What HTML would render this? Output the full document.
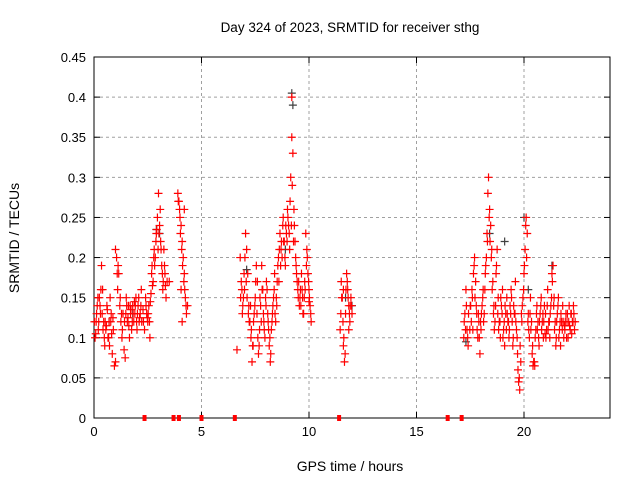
<!DOCTYPE html>
<html><head><meta charset="utf-8"><style>
body{margin:0;background:#fff}
svg{display:block;font-family:"Liberation Sans",sans-serif}
</style></head><body>
<svg id="c" width="640" height="480">
<rect width="640" height="480" fill="#fff"/>
<text x="350" y="32" text-anchor="middle" font-size="13.5">Day 324 of 2023, SRMTID for receiver sthg</text>
<text x="350" y="471" text-anchor="middle" font-size="14">GPS time / hours</text>
<text transform="translate(19,238) rotate(-90)" text-anchor="middle" font-size="14">SRMTID / TECUs</text>
<g id="grid"></g>
<g id="axes"></g>
<g id="blk"></g>
<g id="red"></g>
</svg>
<script>
const xTicks=[0,5,10,15,20];
const yTicks=[0,0.05,0.1,0.15,0.2,0.25,0.3,0.35,0.4,0.45];
const yTickLabels=["0","0.05","0.1","0.15","0.2","0.25","0.3","0.35","0.4","0.45"];
const redHours=[0.05,0.1,0.15,0.2,0.25,0.3,0.35,0.4,0.45,0.5,0.55,0.6,0.65,0.7,0.75,0.8,0.85,0.9,0.95,1.0,1.0,1.05,1.1,1.15,1.2,1.25,1.3,1.35,1.4,1.45,1.5,1.55,1.6,1.65,1.7,1.75,1.8,1.85,1.9,1.95,2.0,2.05,2.1,2.15,2.2,2.3,2.35,2.4,2.45,2.5,2.55,2.6,2.65,2.7,2.75,2.8,2.85,2.9,2.95,3.0,3.05,3.1,3.15,3.2,3.25,3.3,3.35,3.4,3.5,3.9,3.95,4.0,4.05,4.1,4.15,4.2,4.25,4.3,4.35,4.05,4.1,4.2,
6.65,6.8,6.85,6.9,6.95,7.0,7.05,7.1,7.15,7.2,7.25,7.3,7.35,7.4,7.45,7.5,7.55,7.6,7.65,7.7,7.75,7.8,7.85,7.9,7.95,8.0,8.05,8.1,8.15,8.2,8.25,8.3,8.35,8.4,8.45,8.5,8.55,8.6,8.65,8.7,8.75,8.8,8.85,8.9,8.95,9.0,9.05,9.1,9.15,9.2,9.25,9.2,9.3,9.35,9.4,9.45,9.5,9.55,9.6,9.65,9.7,9.75,9.8,9.85,9.9,9.95,10.0,10.05,10.1,10.0,
11.45,11.5,11.55,11.6,11.65,11.7,11.75,11.8,11.85,11.9,11.95,12.0,11.6,11.85,
17.2,17.25,17.3,17.35,17.4,17.5,17.55,17.6,17.65,17.7,17.75,17.8,17.85,17.9,17.95,18.0,18.05,18.1,18.15,18.2,18.25,18.3,18.35,18.4,18.45,18.5,18.55,18.6,18.65,18.7,18.75,18.8,18.85,18.9,18.95,19.0,19.05,19.1,19.15,19.2,19.25,19.3,19.35,19.4,19.45,19.5,19.55,19.6,19.65,19.7,19.75,19.8,19.85,19.9,19.95,20.0,20.05,20.1,20.15,20.2,20.25,20.3,20.35,20.4,20.45,20.5,20.55,20.6,20.65,20.7,20.75,20.8,20.85,20.9,20.95,21.0,21.05,21.1,21.15,21.2,21.25,21.3,21.35,21.4,21.45,21.5,21.55,21.6,21.65,21.7,21.75,21.8,21.85,21.9,21.95,22.0,22.05,22.1,22.15,22.2,22.25,22.3,22.35];
const redValues=[.10,.12,.14,.11,.15,.13,.19,.16,.12,.09,.11,.14,.10,.12,.15,.13,.08,.11,.065,.07,.21,.20,.16,.18,.14,.12,.10,.13,.085,.075,.15,.12,.14,.10,.13,.11,.14,.12,.13,.15,.11,.14,.12,.13,.16,.12,.11,.15,.13,.12,.14,.10,.155,.19,.17,.21,.20,.23,.25,.28,.24,.22,.19,.16,.21,.18,.15,.17,.17,.28,.27,.25,.24,.22,.20,.18,.15,.13,.14,.16,.12,.26,
.085,.20,.17,.13,.15,.16,.23,.21,.18,.14,.12,.10,.07,.09,.13,.15,.19,.17,.08,.11,.14,.19,.16,.12,.10,.14,.16,.12,.09,.07,.11,.13,.15,.18,.12,.14,.19,.17,.23,.21,.20,.25,.22,.19,.23,.26,.24,.21,.30,.35,.33,.40,.26,.22,.19,.17,.15,.14,.16,.18,.15,.13,.17,.23,.21,.18,.16,.14,.12,.145,
.11,.17,.15,.09,.07,.13,.18,.16,.14,.12,.15,.13,.16,.11,
.10,.13,.16,.11,.09,.14,.12,.15,.18,.20,.17,.13,.10,.12,.08,.11,.14,.16,.13,.18,.20,.22,.30,.26,.24,.21,.17,.14,.12,.18,.21,.15,.12,.10,.14,.16,.11,.09,.13,.15,.12,.10,.14,.16,.12,.10,.13,.17,.11,.08,.045,.035,.07,.12,.15,.18,.21,.25,.23,.13,.10,.15,.12,.09,.07,.065,.11,.14,.12,.09,.13,.15,.12,.10,.14,.13,.11,.16,.12,.10,.14,.18,.19,.15,.12,.10,.13,.15,.11,.09,.12,.14,.10,.11,.13,.12,.10,.14,.11,.13,.12,.14,.11];
const redHours2=[0.02,0.08,0.12,0.18,0.22,0.28,0.32,0.38,0.42,0.48,0.52,0.58,0.62,0.68,0.72,0.78,0.82,0.88,1.08,1.12,1.22,1.28,1.32,1.42,1.48,1.52,1.58,1.62,1.68,1.72,1.78,1.82,1.88,1.92,1.98,2.02,2.08,2.12,2.18,2.22,2.28,2.42,2.48,2.52,2.58,2.62,2.68,2.72,2.78,2.82,2.88,2.92,2.98,3.02,3.08,3.12,3.18,3.22,3.28,3.32,3.92,3.98,4.02,4.08,4.12,4.18,4.22,4.28,
6.82,6.88,6.92,6.98,7.02,7.08,7.12,7.18,7.22,7.28,7.32,7.38,7.42,7.48,7.52,7.58,7.62,7.68,7.72,7.78,7.82,7.88,7.92,7.98,8.02,8.08,8.12,8.18,8.22,8.28,8.32,8.38,8.42,8.48,8.52,8.58,8.62,8.68,8.72,8.78,8.82,8.88,8.92,8.98,9.02,9.08,9.12,9.18,9.22,9.28,9.32,9.38,9.42,9.48,9.52,9.58,9.62,9.68,9.72,9.78,9.82,9.88,9.92,9.98,10.02,10.08,
11.48,11.52,11.58,11.62,11.68,11.72,11.78,11.82,11.88,11.92,11.98,
17.22,17.28,17.32,17.38,17.42,17.48,17.52,17.58,17.62,17.68,17.72,17.78,17.82,17.88,17.92,17.98,18.02,18.08,18.12,18.18,18.22,18.28,18.32,18.38,18.42,18.48,18.52,18.58,18.62,18.68,18.72,18.78,18.82,18.88,18.92,18.98,19.02,19.08,19.12,19.18,19.22,19.28,19.32,19.38,19.42,19.48,19.52,19.58,19.62,19.68,19.72,19.78,19.82,19.88,19.92,19.98,20.02,20.08,20.12,20.18,20.22,20.28,20.32,20.38,20.42,20.48,20.52,20.58,20.62,20.68,20.72,20.78,20.82,20.88,20.92,20.98,21.02,21.08,21.12,21.18,21.22,21.28,21.32,21.38,21.42,21.48,21.52,21.58,21.62,21.68,21.72,21.78,21.82,21.88,21.92,21.98,22.02,22.08,22.12,22.18,22.22,22.28,22.32,22.38];
const redValues2=[.12,.105,.13,.15,.12,.14,.16,.13,.11,.10,.12,.115,.135,.10,.09,.12,.105,.125,.18,.19,.15,.13,.11,.12,.13,.14,.125,.115,.14,.135,.12,.13,.145,.14,.12,.13,.15,.125,.14,.12,.135,.14,.125,.13,.12,.145,.18,.165,.20,.19,.22,.235,.21,.23,.26,.21,.18,.17,.19,.165,.27,.26,.23,.21,.19,.17,.16,.14,
.15,.16,.14,.18,.20,.17,.15,.13,.12,.14,.11,.09,.12,.14,.17,.13,.10,.09,.15,.12,.16,.13,.11,.15,.17,.13,.11,.10,.08,.12,.14,.16,.13,.15,.17,.20,.21,.19,.22,.24,.22,.20,.24,.22,.25,.23,.27,.24,.29,.22,.24,.20,.18,.16,.17,.15,.14,.16,.13,.15,.16,.19,.20,.17,.15,.13,
.13,.15,.12,.10,.08,.16,.17,.15,.13,.14,.14,
.12,.11,.14,.10,.13,.11,.14,.16,.11,.19,.15,.14,.11,.13,.10,.12,.13,.15,.12,.16,.19,.23,.28,.25,.22,.20,.16,.13,.11,.14,.19,.13,.11,.12,.15,.13,.10,.12,.14,.11,.13,.12,.11,.13,.15,.09,.14,.13,.12,.10,.06,.05,.09,.13,.14,.16,.19,.24,.20,.12,.11,.13,.11,.08,.065,.07,.10,.13,.11,.10,.12,.14,.11,.13,.12,.105,.10,.14,.11,.12,.13,.15,.17,.14,.11,.09,.12,.14,.10,.12,.13,.11,.12,.115,.12,.10,.13,.12,.115,.13,.105,.12,.13,.12];
const blackHours=[9.2,9.25,2.9,18.4,20.0,19.1,21.3,7.1,11.7,12.0,0.7,17.3,20.2,3.05,8.9,1.8];
const blackValues=[.405,.39,.235,.23,.25,.22,.19,.185,.15,.14,.12,.095,.16,.23,.21,.13];
const zeroHours=[2.35,3.7,3.95,5.0,6.55,11.4,16.45,17.1];

const X0=94,X1=610,Y0=418,Y1=57;
const sx=h=>X0+h/24*(X1-X0);
const sy=v=>Y0-v/0.45*(Y0-Y1);
const NS="http://www.w3.org/2000/svg";
function mk(tag,parent,attrs){const e=document.createElementNS(NS,tag);for(const k in attrs)e.setAttribute(k,attrs[k]);parent.appendChild(e);return e;}
const grid=document.getElementById('grid'),axes=document.getElementById('axes');
yTicks.forEach((t,i)=>{
  const y=sy(t);
  if(i>0&&i<yTicks.length-1){const g=mk('line',grid,{x1:X0,x2:X1,y1:y,y2:y,stroke:'#a0a0a0','stroke-dasharray':'3,3'});
  
  }
  mk('line',axes,{x1:X0,x2:X0+6,y1:y,y2:y,stroke:'#000'});
  mk('line',axes,{x1:X1,x2:X1-6,y1:y,y2:y,stroke:'#000'});
  const tl=mk('text',axes,{x:X0-8,y:y+5,'text-anchor':'end','font-size':'13'});
  tl.textContent=yTickLabels[i];
  
  
});
xTicks.forEach(t=>{
  const x=sx(t);
  if(t>0){const g=mk('line',grid,{x1:x,x2:x,y1:Y1,y2:Y0,stroke:'#a0a0a0','stroke-dasharray':'3,3'});
  
  }
  mk('line',axes,{x1:x,x2:x,y1:Y0,y2:Y0-6,stroke:'#000'});
  mk('line',axes,{x1:x,x2:x,y1:Y1,y2:Y1+6,stroke:'#000'});
  const tl=mk('text',axes,{x:x,y:Y0+18,'text-anchor':'middle','font-size':'13'});
  tl.textContent=String(t);
  
  
});
mk('rect',axes,{x:X0,y:Y1,width:X1-X0,height:Y0-Y1,fill:'none',stroke:'#000'});
function plus(g,h,v,col,name){
  const x=sx(h),y=sy(v);
  const p=mk('path',g,{d:`M${x-4},${y}h8M${x},${y-4}v8`,stroke:col,'stroke-width':'1.2',fill:'none'});
  
  
}
const blk=document.getElementById('blk'),red=document.getElementById('red');
blackHours.forEach((h,i)=>plus(blk,h,blackValues[i],'#404040','black-point'));
redHours.forEach((h,i)=>plus(red,h,redValues[i],'#ff0000','red-point'));
redHours2.forEach((h,i)=>plus(red,h,redValues2[i],'#ff0000','red-point'));
zeroHours.forEach(h=>{
  const x=sx(h);
  const r=mk('rect',red,{x:x-2,y:Y0-3,width:4,height:6,fill:'#ff0000'});
  
  
});
</script>
</body></html>
